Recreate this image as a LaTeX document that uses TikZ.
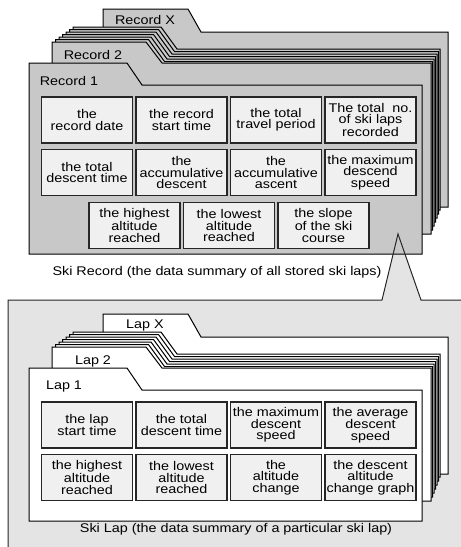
\documentclass[tikz,border=0pt]{standalone}
\usepackage{fontspec}
\setmainfont[FakeStretch=1.14]{Liberation Sans}
\definecolor{recfill}{HTML}{C8C8C8}
\definecolor{boxfill}{HTML}{F0F0F0}
\definecolor{callfill}{HTML}{E4E4E4}
\newcommand\fieldfont{\fontsize{12.6}{11.4}\selectfont}
\newcommand\labelfont{\fontsize{12.6}{15}\selectfont}
\tikzset{
  sheet/.style={draw=black, line width=1pt, line join=miter},
  field/.style={draw=black!85, line width=1.1pt, fill=boxfill,
    minimum width=91pt, minimum height=46pt, inner sep=0pt,
    align=center, font=\fieldfont},
  tablabel/.style={inner sep=0pt, font=\labelfont},
  caption/.style={inner sep=0pt, font=\labelfont},
  callout/.style={draw=black!85, line width=1pt, line join=miter},
}
% A stack of folder sheets: #1 shift of the tops, #2 shift of the bottoms, #3 fill
\newcommand\folderstack[3]{%
  % rearmost sheet
  \filldraw[sheet,fill=#3] (103,9+#1) -- (188,9+#1) -- (201,32+#1) -- (448,32+#1)
    -- (448,207+#2) -- (103,207+#2) -- cycle;
  % sheets in between
  \foreach \i in {6,5,4,3,2,1}{
    \pgfmathsetmacro\sL{52+3.5*\i}
    \pgfmathsetmacro\sT{42-2.5*\i+#1}
    \pgfmathsetmacro\sW{94-\i}
    \pgfmathsetmacro\sR{431+1.5*\i}
    \pgfmathsetmacro\sB{234-4*\i+#2}
    \filldraw[sheet,fill=#3] (\sL,\sT) -- ++(\sW,0) -- ++(16,22) -- (\sR,\sT+22)
      -- (\sR,\sB) -- (\sL,\sB) -- cycle;
  }
  % second sheet
  \filldraw[sheet,fill=#3] (52,42+#1) -- (146,42+#1) -- (162,63+#1) -- (431,63+#1)
    -- (431,234+#2) -- (52,234+#2) -- cycle;
  % front sheet
  \filldraw[sheet,fill=#3] (29,63+#1) -- (127,63+#1) -- (142,85+#1) -- (422,85+#1)
    -- (422,254+#2) -- (29,254+#2) -- cycle;
}
\begin{document}
\begin{tikzpicture}[x=1pt,y=-1pt]
\useasboundingbox (0,0) rectangle (461,547);
\clip (0,0) rectangle (461,547);

% callout area behind everything
\fill[callfill] (8,300) -- (382,300) -- (398,234) -- (421,300) -- (470,300)
  -- (470,560) -- (8,560) -- cycle;

% ---- ski record stack ----
\folderstack{0}{0}{recfill}
\node[tablabel] (recX) at (145,20) {Record X};
\node[tablabel] (rec2) at (93,55) {Record 2};
\node[tablabel] (rec1) at (69,81) {Record 1};

\node[field] (r11) at (87,120)    {the\\record date};
\node[field] (r12) at (181.5,120) {the record\\start time};
\node[field] (r13) at (276,120)   {the total\\travel period};
\node[field] (r14) at (370.5,120) {The total~~no.\\of ski laps\\recorded};
\node[field] (r21) at (87,172.5)    {the total\\descent time};
\node[field] (r22) at (181.5,172.5) {the\\accumulative\\descent};
\node[field] (r23) at (276,172.5)   {the\\accumulative\\ascent};
\node[field] (r24) at (370.5,172.5) {the maximum\\descend\\speed};
\node[field] (r31) at (134.5,225.5) {the highest\\altitude\\reached};
\node[field] (r32) at (229,225.5)   {the lowest\\altitude\\reached};
\node[field] (r33) at (323.5,225.5) {the slope\\of the ski\\course};

\node[caption] (reccap) at (217,272) {Ski Record (the data summary of all stored ski laps)};

% callout outline
\draw[callout] (8,560) -- (8,300) -- (382,300) -- (398,234) -- (421,300) -- (470,300);

% ---- ski lap stack ----
\folderstack{305}{267}{white}
\node[tablabel] (lapX) at (145,325) {Lap X};
\node[tablabel] (lap2) at (93,361) {Lap 2};
\node[tablabel] (lap1) at (64,386) {Lap 1};

\node[field] (l11) at (87,425)    {the lap\\start time};
\node[field] (l12) at (181.5,425) {the total\\descent time};
\node[field] (l13) at (276,425)   {the maximum\\descent\\speed};
\node[field] (l14) at (370.5,425) {the average\\descent\\speed};
\node[field] (l21) at (87,477.5)    {the highest\\altitude\\reached};
\node[field] (l22) at (181.5,477.5) {the lowest\\altitude\\reached};
\node[field] (l23) at (276,477.5)   {the\\altitude\\change};
\node[field] (l24) at (370.5,477.5) {the descent\\altitude\\change graph};

\node[caption] (lapcap) at (236,529) {Ski Lap (the data summary of a particular ski lap)};
\end{tikzpicture}
\end{document}
